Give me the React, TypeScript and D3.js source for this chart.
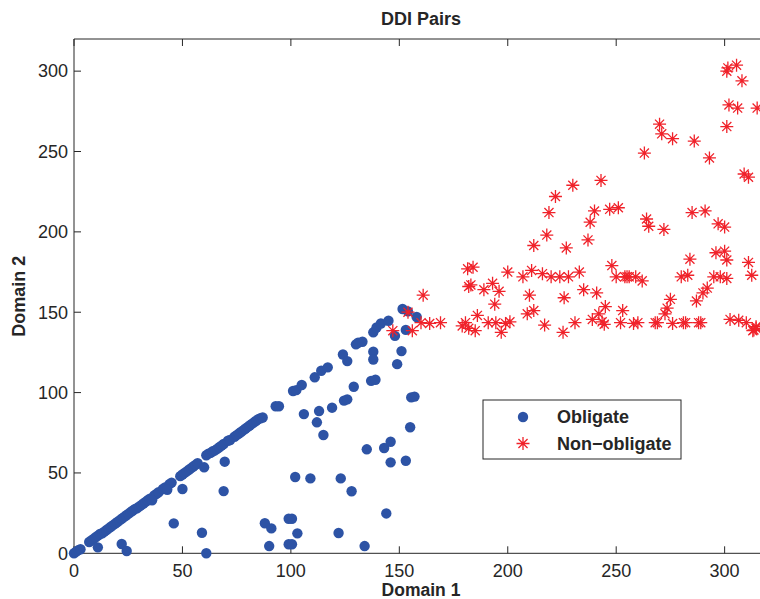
import React, { useEffect, useRef } from "react";
import * as d3 from "d3";

const xTicks = [0, 50, 100, 150, 200, 250, 300];
const yTicks = [0, 50, 100, 150, 200, 250, 300];
const seriesNames = ["Obligate", "Non\u2212obligate"];

const obligate: [number, number][] = [
  [0, 0], [1, 1], [2, 2], [3, 2.5], [7, 7], [8, 8], [9, 9], [10, 10], [11, 11], [12, 12],
  [13, 12.5], [14, 13.5], [15, 14.5], [16, 15.5], [17, 16.5], [18, 17.5], [19, 18.5], [20, 19.5],
  [21, 20.5], [22, 21.5], [23, 22.5], [24, 23.5], [25, 24.5], [26, 25.5], [27, 26.5], [28, 27.5],
  [29, 28], [30, 29], [31, 30], [32, 31], [33, 32], [34, 33], [35, 34], [37, 36], [38, 37], [39, 38],
  [41, 40], [42, 41], [44, 43], [45, 44], [49, 48], [50, 49], [51, 50], [52, 51], [53, 52], [54, 53],
  [55, 54], [56, 55], [57, 56], [61, 61], [62, 62], [63, 62.5], [64, 63.5], [65, 64], [66, 65],
  [67, 66], [68, 67], [69, 68], [71, 70], [72, 70.5], [74, 72.5], [75, 73.5], [76, 74.5], [77, 75.5],
  [78, 76.5], [79, 77.5], [80, 78.5], [81, 79.5], [82, 80.5], [83, 81.5], [84, 82.5], [85, 83.5],
  [86, 84], [87, 84.5],
  [93, 91.5], [94.5, 91.5], [101, 101], [102.5, 101.5], [105, 104.7], [111, 109.5], [114, 113.6],
  [117, 115.7], [124, 123.7], [130, 130], [131, 131], [133, 131.6], [138, 137.5], [139.5, 140.5],
  [141.5, 143], [145, 144.7], [151.5, 152], [154, 150.5], [158, 147],
  [36, 33], [43, 39.5], [50, 40], [60, 53.5], [69.5, 57], [69, 38.7], [11, 3.7], [22, 5.8],
  [24.3, 1.4], [46, 18.6], [59, 12.8], [61, 0],
  [88, 18.7], [91, 15.5], [99, 21.5], [100.5, 21.5], [103, 12.4], [90, 4.5], [99, 5.6], [100.5, 5.6],
  [134, 4.5], [122, 12.6], [102, 47.5], [109, 46.6], [123, 46.6], [128, 38.6], [144, 24.8],
  [106, 86.6], [113, 88.5], [112, 81.5], [115, 73.6], [119, 90.6], [124.5, 95], [126, 95.8],
  [129, 103.6], [126, 119.6], [138, 125.4], [138, 120.6], [137, 107.3], [139, 108], [135, 64.7],
  [143, 65.5], [146, 69.4], [146, 56.6], [153, 57.6], [155, 78.4], [155.5, 97], [157, 97.5],
  [148, 135.3], [153, 139], [151, 125.8], [149, 117.7],
];

const nonObligate: [number, number][] = [
  [301, 300], [301.5, 302], [305.5, 303.7], [308, 294], [302, 279], [306, 277], [315, 277], [301, 265.5],
  [270, 267], [271, 261], [276, 258], [286, 256.5], [263, 249], [293, 246],
  [309, 236], [311, 234], [243, 232], [230, 229], [222, 222], [219, 212], [240, 213], [247, 214],
  [251, 215], [238, 206], [218, 198], [212, 191.5], [227, 190], [237, 195], [264, 208], [265, 203.5],
  [272, 201.5], [285, 212], [291, 213], [297, 205], [300, 203],
  [181.5, 177], [184, 178], [200, 175], [207, 172], [211, 176], [216, 174], [220, 172], [224, 172],
  [228, 172], [233, 175], [248, 179], [250, 172], [254, 172], [255, 172], [256, 172], [259, 172],
  [262, 169.5], [280, 172], [283, 173], [284, 183], [296, 187], [300, 188], [301, 182.5], [295, 172],
  [298, 172], [301, 171], [311, 181], [312.5, 173],
  [161, 160.6], [182, 166], [183, 167], [189, 164], [193, 168], [196, 163], [210, 160.6], [226, 159],
  [235, 164], [241, 162], [292, 165], [290, 162], [287, 157], [275, 158], [273.5, 152.5], [272.5, 149],
  [245, 153.5], [242, 149], [253, 151], [194, 155],
  [147, 138.5], [154, 150], [156, 138.5], [160, 143.5], [164, 143], [169, 143.5], [179, 141.5],
  [180.5, 143.5], [182, 140], [185, 138.5], [186, 148], [191, 143.5], [194.5, 143.5], [197, 137.5],
  [199, 143], [201, 144], [209, 149], [212, 151], [217, 142], [225.5, 137.5], [231, 143.5],
  [239, 145.5], [243.5, 144], [244.5, 142.5], [252, 143.5], [258, 143], [260, 143.5], [268, 143.5],
  [269, 143.5], [276, 143], [281, 143.5], [282, 143.5], [288, 143.5], [289, 143.5], [302.5, 145.5],
  [306.5, 145], [310, 143.5], [313.5, 139], [314.5, 141], [313, 138.5], [314.5, 140],
];

const BLUE = "#2d53a5";
const RED = "#f0222a";
const INK = "#262626";
const FONT = "'Liberation Sans', Arial, Helvetica, sans-serif";

const starPath = (s: number) => {
  const d = s * 0.7;
  return `M${-s},0L${s},0M0,${-s}L0,${s}M${-d},${-d}L${d},${d}M${-d},${d}L${d},${-d}`;
};

export default function App() {
  const ref = useRef<SVGSVGElement | null>(null);

  useEffect(() => {
    document.body.style.margin = "0";
    const svg = d3.select(ref.current);
    svg.selectAll("*").remove();

    const left = 74, right = 768, top = 39, bottom = 553.3;
    const x = d3.scaleLinear().domain([0, 320]).range([left, right]);
    const y = d3.scaleLinear().domain([0, 320]).range([bottom, top]);

    const g = svg.append("g");

    // frame
    g.append("line").attr("x1", left).attr("x2", right).attr("y1", bottom).attr("y2", bottom)
      .attr("stroke", INK).attr("stroke-width", 1);
    g.append("line").attr("x1", left).attr("x2", right).attr("y1", top).attr("y2", top)
      .attr("stroke", INK).attr("stroke-width", 1);
    g.append("line").attr("x1", left).attr("x2", left).attr("y1", top).attr("y2", bottom)
      .attr("stroke", INK).attr("stroke-width", 1);
    g.append("line").attr("x1", right).attr("x2", right).attr("y1", top).attr("y2", bottom)
      .attr("stroke", INK).attr("stroke-width", 1);

    // ticks
    const tl = 7;
    xTicks.forEach((t) => {
      const px = x(t);
      g.append("line").attr("x1", px).attr("x2", px).attr("y1", bottom).attr("y2", bottom - tl)
        .attr("stroke", INK);
      g.append("line").attr("x1", px).attr("x2", px).attr("y1", top).attr("y2", top + tl)
        .attr("stroke", INK);
      g.append("text").attr("x", px).attr("y", 576.5).attr("text-anchor", "middle")
        .attr("font-family", FONT).attr("font-size", 18).attr("fill", INK).text(String(t));
    });
    yTicks.forEach((t) => {
      const py = y(t);
      g.append("line").attr("x1", left).attr("x2", left + tl).attr("y1", py).attr("y2", py)
        .attr("stroke", INK);
      g.append("line").attr("x1", right).attr("x2", right - tl).attr("y1", py).attr("y2", py)
        .attr("stroke", INK);
      g.append("text").attr("x", 68).attr("y", py).attr("dy", "0.35em").attr("text-anchor", "end")
        .attr("font-family", FONT).attr("font-size", 18).attr("fill", INK).text(String(t));
    });

    // labels
    g.append("text").attr("x", (left + right) / 2).attr("y", 25).attr("text-anchor", "middle")
      .attr("font-family", FONT).attr("font-size", 18).attr("font-weight", "bold").attr("fill", INK)
      .text("DDI Pairs");
    g.append("text").attr("x", (left + right) / 2).attr("y", 596).attr("text-anchor", "middle")
      .attr("font-family", FONT).attr("font-size", 17.5).attr("font-weight", "bold").attr("fill", INK)
      .text("Domain 1");
    g.append("text").attr("transform", `translate(25,${(top + bottom) / 2}) rotate(-90)`)
      .attr("text-anchor", "middle")
      .attr("font-family", FONT).attr("font-size", 18).attr("font-weight", "bold").attr("fill", INK)
      .text("Domain 2");

    // points
    g.append("g").selectAll("circle").data(obligate).join("circle")
      .attr("cx", (d) => x(d[0])).attr("cy", (d) => y(d[1])).attr("r", 5.2).attr("fill", BLUE);

    g.append("g").selectAll("path").data(nonObligate).join("path")
      .attr("transform", (d) => `translate(${x(d[0])},${y(d[1])})`)
      .attr("d", starPath(6.5)).attr("stroke", RED).attr("stroke-width", 1.3).attr("fill", "none");

    // legend
    const lg = g.append("g");
    lg.append("rect").attr("x", 483).attr("y", 400).attr("width", 198).attr("height", 59)
      .attr("fill", "white").attr("stroke", INK).attr("stroke-width", 1);
    lg.append("circle").attr("cx", 523).attr("cy", 417).attr("r", 5.2).attr("fill", BLUE);
    lg.append("path").attr("transform", "translate(523,443.5)").attr("d", starPath(6.5))
      .attr("stroke", RED).attr("stroke-width", 1.3).attr("fill", "none");
    lg.append("text").attr("x", 557).attr("y", 417).attr("dy", "0.35em")
      .attr("font-family", FONT).attr("font-size", 18).attr("font-weight", "bold").attr("fill", INK)
      .text(seriesNames[0]);
    lg.append("text").attr("x", 557).attr("y", 443.5).attr("dy", "0.35em")
      .attr("font-family", FONT).attr("font-size", 18).attr("font-weight", "bold").attr("fill", INK)
      .text(seriesNames[1]);
  }, []);

  return (
    <svg
      ref={ref}
      width={760}
      height={599}
      style={{ position: "absolute", left: 0, top: 0, background: "white", overflow: "hidden" }}
    />
  );
}
